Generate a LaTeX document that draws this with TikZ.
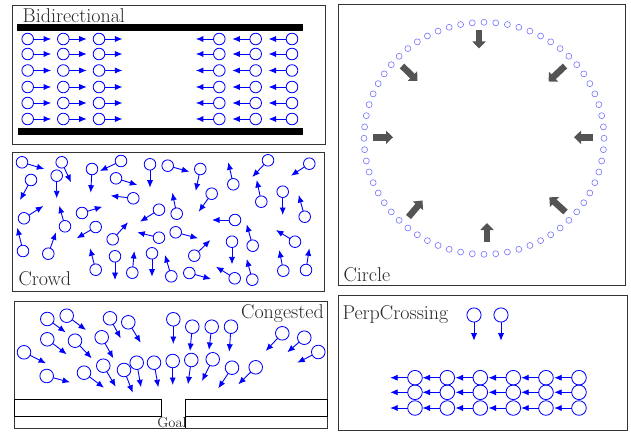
\documentclass[tikz,border=0pt]{standalone}
\usepackage{fontspec}
\usetikzlibrary{arrows.meta}
\tikzset{
  panel/.style={draw=black!80, line width=0.8pt},
  ag/.style={circle, draw=blue, line width=0.85pt, minimum size=#1, inner sep=0pt, outer sep=0pt},
  ag/.default=11.6pt,
  mv/.style={blue, line width=0.9pt, -{Latex[length=7.5pt,width=6.2pt]}},
  ringag/.style={circle, draw=blue!55, line width=0.6pt, minimum size=6pt, inner sep=0pt, outer sep=0pt},
  push/.style={black!67, line width=6.5pt, -{Triangle[length=7pt,width=13pt]}},
  lab/.style={anchor=base west, inner sep=0pt, font=\fontsize{20}{24}\selectfont, text=black!85},
  bar/.style={fill=black, draw=none},
  wall/.style={draw=black, line width=0.8pt}
}
\begin{document}
\begin{tikzpicture}[x=1pt, y=-1pt]
\useasboundingbox (0,0) rectangle (631,433);

% ---------- Bidirectional ----------
\draw[panel] (12,5) rectangle (325,144);
\node[lab] (tbid) at (22.5,23) {Bidirectional};
\fill[bar] (17,24.3) rectangle (303,30.7);
\fill[bar] (18,128.3) rectangle (303,135);
\foreach \cx [count=\a] in {27.7,63.3,99} {
  \foreach \cy [count=\b] in {39,54,70.5,87,103,119} {
    \node[ag] (bl\a-\b) at (\cx,\cy) {};
    \coordinate (blt\a-\b) at ({\cx+23.4},\cy);
    \draw[mv] (bl\a-\b) -- (blt\a-\b);
  }
}
\foreach \cx [count=\a] in {219.3,255.7,292} {
  \foreach \cy [count=\b] in {39,54,70.5,87,103,119} {
    \node[ag] (br\a-\b) at (\cx,\cy) {};
    \coordinate (brt\a-\b) at ({\cx-23.4},\cy);
    \draw[mv] (br\a-\b) -- (brt\a-\b);
  }
}

% ---------- Crowd ----------
\draw[panel] (12,152) rectangle (324,291);
\node[lab] (tcrowd) at (18.3,285) {Crowd};
\foreach \x/\y/\u/\v [count=\i] in {
  22/162.3/44.3/169, 61.7/162.3/71/182.3, 31/180/20/200, 56.7/175.7/56.7/198.3,
  92/169/90.7/192.7, 121/161/100/171, 116/178.3/137.3/185, 150/164.3/150/187.7,
  167.7/165.7/189.3/171.7, 200.3/169/195.7/191, 233.3/184.3/228.3/162.3,
  268/160.3/252.3/177, 309.3/163.7/291/175.7, 133.3/198.3/110.7/195.7,
  211.7/193.7/198.7/211.7, 261.3/201.7/256.7/180, 282.7/191.7/282.7/215,
  24/218.3/43.3/206, 65/226.3/59.3/205.7, 82/213/102.3/206.7, 159/209.7/140/221.7,
  176.7/213.7/172.3/192.7, 304.7/216.7/298.7/195, 235/220/212/220,
  95.7/227/76.7/238.3, 112.7/239.3/128/222.3, 159/237.7/137.3/232.3,
  175.7/232.3/198/238.3, 23/251/17.3/227.7, 48.3/253.7/56/232.3,
  194.3/255.7/210.3/240, 232/241.7/232/264.3, 252.7/245.7/246.7/224.3,
  295/241.7/276/230, 95.7/269.7/90/248.3, 115/256.3/115/280, 132.3/272.7/134.3/251,
  152/253.3/152/276.7, 171.3/276.3/165/255, 189.3/273/211/279,
  234.7/278.3/216/266.7, 252.3/279.7/246.7/259, 283.3/270.7/279.3/250,
  306/270/309.3/248.3} {
  \node[ag] (cr\i) at (\x,\y) {};
  \coordinate (crt\i) at (\u,\v);
  \draw[mv] (cr\i) -- (crt\i);
}

% ---------- Congested ----------
\draw[panel] (14,301) rectangle (327,428.3);
\node[lab, anchor=base east] (tcong) at (324,318.3) {Congested};
\draw[wall] (14,399) rectangle (161.7,416);
\draw[wall] (185.7,399) rectangle (327,416);
\draw[wall] (185.7,416) -- (185.7,428.3);
\node[anchor=base, inner sep=0pt, font=\fontsize{14.5}{16}\selectfont, text=black!85] (tgoal) at (172,427.3) {Goal};
\foreach \x/\y/\u/\v [count=\i] in {
  47.3/319/65.7/332.3, 66.7/315.7/86/330, 110/318.3/120.7/338.3, 128.3/322.3/140.7/342.7,
  173.3/319.3/173.3/344, 192.3/326.7/190/351, 211.7/326.7/209/350, 231/326.7/229.3/351.7,
  47.3/339.3/66.7/354.3, 75/340.7/91.7/358.3, 101.7/337.3/113.3/358.3,
  282.3/333.3/265.7/351, 304.3/337.7/287.3/352.3, 318.3/352/297.3/362.7,
  24/352.3/46/363.3, 103.3/365.7/115.7/386.7, 136.7/362.7/141/387.3,
  154/362.7/158.3/387.3, 172.7/361/172.7/385, 191.3/360/188/384.3,
  212.7/359.3/202/381, 232/367.7/218.3/388.3, 255.7/367.3/238.3/384.3,
  46.7/376/70/382.3, 84/372.7/104/387.7, 124/370/132.7/392.7} {
  \node[ag=13.6pt] (cg\i) at (\x,\y) {};
  \coordinate (cgt\i) at (\u,\v);
  \draw[mv] (cg\i) -- (cgt\i);
}

% ---------- Circle ----------
\draw[panel] (338,4) rectangle (625,285);
\node[lab] (tcirc) at (343.3,281) {Circle};
\foreach \k in {0,...,63} {
  \node[ringag] (ring\k) at ({484+120*cos(\k*5.625)},{138.3-116*sin(\k*5.625)}) {};
}
\draw[push] (479,30) -- (479,48.5);
\draw[push] (487,242) -- (487,223);
\draw[push] (373,137.3) -- (393,137.3);
\draw[push] (593,137.3) -- (574,137.3);
\draw[push] (402,66) -- (417.5,81);
\draw[push] (565,66) -- (548.5,81.5);
\draw[push] (408.5,217) -- (422.5,200.5);
\draw[push] (565.5,212) -- (549.3,197.3);

% ---------- PerpCrossing ----------
\draw[panel] (338,295.7) rectangle (627,430);
\node[lab] (tperp) at (342.3,319.3) {PerpCrossing};
\foreach \x [count=\i] in {474,501} {
  \node[ag=14.2pt] (pv\i) at (\x,315) {};
  \coordinate (pvt\i) at (\x,340.7);
  \draw[mv] (pv\i) -- (pvt\i);
}
\foreach \cx [count=\a] in {415,447.3,480.3,513.3,546,579} {
  \foreach \cy [count=\b] in {377.7,392.3,408} {
    \node[ag=14.6pt] (ph\a-\b) at (\cx,\cy) {};
    \coordinate (pht\a-\b) at ({\cx-24.8},\cy);
    \draw[mv] (ph\a-\b) -- (pht\a-\b);
  }
}
\end{tikzpicture}
\end{document}
